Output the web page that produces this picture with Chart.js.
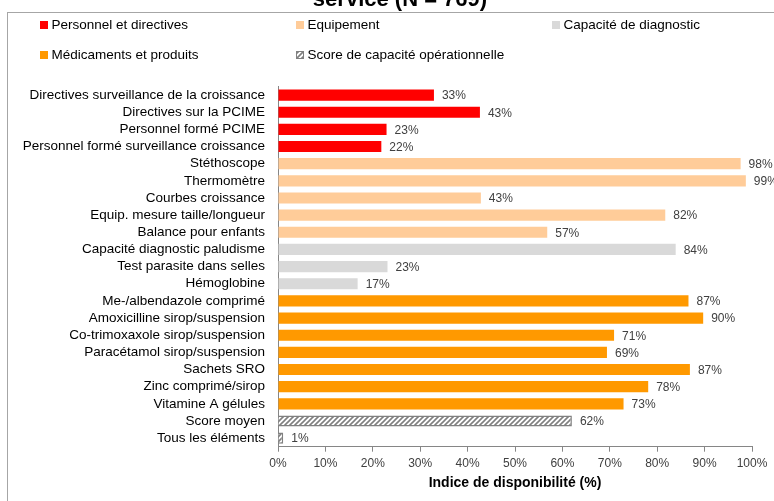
<!DOCTYPE html>
<html>
<head>
<meta charset="utf-8">
<script src="https://cdn.jsdelivr.net/npm/chart.js@4.4.1/dist/chart.umd.min.js"></script>
<style>
  html, body { margin: 0; padding: 0; background: #fff; overflow: hidden; }
  #wrap { position: relative; width: 774px; height: 501px; }
</style>
</head>
<body>
<div id="wrap"><canvas id="myChart"></canvas></div>
<script>
var labels = [
  "Directives surveillance de la croissance",
  "Directives sur la PCIME",
  "Personnel formé PCIME",
  "Personnel formé surveillance croissance",
  "Stéthoscope",
  "Thermomètre",
  "Courbes croissance",
  "Equip. mesure taille/longueur",
  "Balance pour enfants",
  "Capacité diagnostic paludisme",
  "Test parasite dans selles",
  "Hémoglobine",
  "Me-/albendazole comprimé",
  "Amoxicilline sirop/suspension",
  "Co-trimoxaxole sirop/suspension",
  "Paracétamol sirop/suspension",
  "Sachets SRO",
  "Zinc comprimé/sirop",
  "Vitamine A gélules",
  "Score moyen",
  "Tous les éléments"
];

var seriesNames = [
  "Personnel et directives",
  "Equipement",
  "Capacité de diagnostic",
  "Médicaments et produits",
  "Score de capacité opérationnelle"
];

// one value per row, null where the row belongs to another group
var personnel = [32.9, 42.6, 22.9, 21.8, null, null, null, null, null, null, null, null, null, null, null, null, null, null, null, null, null];
var equipement = [null, null, null, null, 97.6, 98.7, 42.8, 81.7, 56.8, null, null, null, null, null, null, null, null, null, null, null, null];
var diagnostic = [null, null, null, null, null, null, null, null, null, 83.9, 23.1, 16.8, null, null, null, null, null, null, null, null, null];
var medicaments = [null, null, null, null, null, null, null, null, null, null, null, null, 86.6, 89.7, 70.9, 69.4, 86.9, 78.1, 72.9, null, null];
var score = [null, null, null, null, null, null, null, null, null, null, null, null, null, null, null, null, null, null, null, 62.0, 1.1];

var xTicks = [0, 10, 20, 30, 40, 50, 60, 70, 80, 90, 100];

function hatch() {
  var c = document.createElement("canvas");
  c.width = 5; c.height = 5;
  var g = c.getContext("2d");
  g.fillStyle = "#ffffff";
  g.fillRect(0, 0, 5, 5);
  g.strokeStyle = "#808080";
  g.lineWidth = 1.6;
  g.beginPath();
  g.moveTo(-1, 6); g.lineTo(6, -1);
  g.moveTo(-1, 1); g.lineTo(1, -1);
  g.moveTo(4, 6); g.lineTo(6, 4);
  g.stroke();
  return g.createPattern(c, "repeat");
}
var hatchFill = hatch();

var barColors = ["#ff0000", "#ffcc99", "#d9d9d9", "#ff9900", hatchFill];
var allSeries = [personnel, equipement, diagnostic, medicaments, score];

var datasets = allSeries.map(function (vals, i) {
  return {
    label: seriesNames[i],
    data: vals,
    backgroundColor: barColors[i],
    borderColor: i == 4 ? "#808080" : barColors[i],
    borderWidth: i == 4 ? 1.5 : 0,
    categoryPercentage: 1,
    barPercentage: 0.65
  };
});

var font = "'Liberation Sans', Arial, sans-serif";

var extras = {
  id: "extras",
  beforeDraw: function (chart) {
    var ctx = chart.ctx;
    ctx.save();
    ctx.strokeStyle = "#a6a6a6";
    ctx.lineWidth = 1;
    ctx.strokeRect(7.5, 12.5, 900, 600);
    ctx.restore();
  },
  afterDraw: function (chart) {
    var ctx = chart.ctx;
    ctx.save();
    // title (only its last line is in view)
    ctx.fillStyle = "#000";
    ctx.font = "bold 22px " + font;
    ctx.textAlign = "center";
    ctx.textBaseline = "alphabetic";
    ctx.fillText("service (N = 769)", 400, 6);

    // legend
    var colX = [40, 296, 552], rowY = [25, 55];
    ctx.font = "13.5px " + font;
    ctx.textAlign = "left";
    ctx.textBaseline = "middle";
    chart.data.datasets.forEach(function (ds, i) {
      var x = colX[i % 3], y = rowY[Math.floor(i / 3)];
      ctx.fillStyle = ds.backgroundColor;
      ctx.fillRect(x, y - 4, 8, 8);
      if (ds.borderWidth) {
        ctx.strokeStyle = ds.borderColor;
        ctx.lineWidth = 1;
        ctx.strokeRect(x + 0.5, y - 3.5, 7, 7);
      }
      ctx.fillStyle = "#000";
      ctx.fillText(ds.label, x + 11.5, y);
    });

    // value labels
    ctx.fillStyle = "#404040";
    ctx.font = "12px " + font;
    chart.data.datasets.forEach(function (ds, i) {
      chart.getDatasetMeta(i).data.forEach(function (bar, j) {
        var v = ds.data[j];
        if (v === null) return;
        ctx.fillText(Math.round(v) + "%", bar.x + 8, bar.y + 1);
      });
    });
    ctx.restore();
  }
};

new Chart("myChart", {
  type: "bar",
  data: { labels: labels, datasets: datasets },
  plugins: [extras],
  options: {
    indexAxis: "y",
    responsive: true,
    maintainAspectRatio: false,
    animation: false,
    layout: { padding: { top: 86.5, right: 22, bottom: 0, left: 0 } },
    plugins: {
      legend: { display: false },
      title: { display: false },
      tooltip: { enabled: false }
    },
    scales: {
      x: {
        stacked: true,
        min: 0,
        max: 100,
        afterBuildTicks: function (scale) {
          scale.ticks = xTicks.map(function (v) { return { value: v }; });
        },
        afterFit: function (scale) { scale.height = 54.3; },
        grid: { drawOnChartArea: false, drawTicks: true, tickLength: 5, color: "#868686" },
        border: { color: "#868686", width: 1 },
        ticks: {
          padding: 5,
          color: "#404040",
          font: { family: font, size: 12 },
          callback: function (v) { return v + "%"; }
        },
        title: {
          display: true,
          text: "Indice de disponibilité (%)",
          color: "#000",
          font: { family: font, size: 14, weight: "bold" },
          padding: { top: 0, bottom: 9 }
        }
      },
      y: {
        stacked: true,
        afterFit: function (scale) { scale.width = 278; },
        grid: { display: false, drawTicks: false },
        border: { color: "#868686", width: 1 },
        ticks: {
          padding: 13,
          color: "#000",
          autoSkip: false,
          font: { family: font, size: 13.5 }
        }
      }
    }
  }
});
</script>
</body>
</html>
